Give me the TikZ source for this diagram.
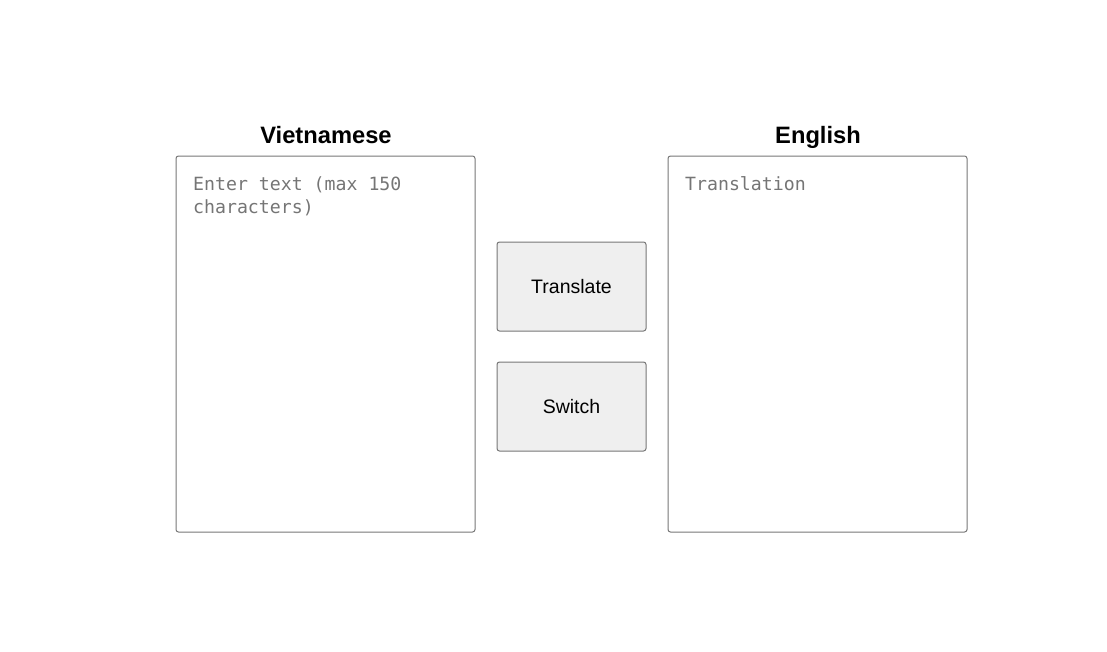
\documentclass[tikz,border=0pt]{standalone}
\usepackage{fontspec}
\setmainfont{Liberation Sans}
\newfontfamily\hintfont{DejaVu Sans Mono}
\definecolor{edge}{HTML}{767676}
\definecolor{hint}{HTML}{757575}
\definecolor{btnfill}{HTML}{EFEFEF}
\tikzset{
  textarea/.style={draw=edge, line width=1pt, rounded corners=2.5pt, minimum width=299pt, minimum height=376pt, inner sep=0pt},
  button/.style={draw=edge, fill=btnfill, line width=1pt, rounded corners=2.5pt, minimum width=149pt, minimum height=89pt, inner sep=0pt, font=\fontsize{19.5}{23}\selectfont},
  title/.style={anchor=base, inner sep=0pt, font=\fontsize{23.7}{28}\selectfont\bfseries},
  placeholder/.style={text=hint, align=left, inner sep=0pt, anchor=north west, font=\fontsize{18.2}{23}\selectfont\hintfont}
}
\begin{document}
\begin{tikzpicture}[x=1pt,y=-1pt]
\useasboundingbox (0,0) rectangle (1107,651);
\node [textarea] (source) at (325.5,344) {};
\node [textarea] (target) at (817.5,344) {};
\node [title] (sourcetitle) at (326,143.5) {Vietnamese};
\node [title] (targettitle) at (818,143.5) {English};
\node [button] (translate) at (571.5,286.5) {Translate};
\node [button] (switch) at (571.5,406.5) {Switch};
% placeholder texts
\node [placeholder] (sourcehint) at (193,176) {Enter text (max 150\\characters)};
\node [placeholder] (targethint) at (685,176) {Translation};
\end{tikzpicture}
\end{document}
